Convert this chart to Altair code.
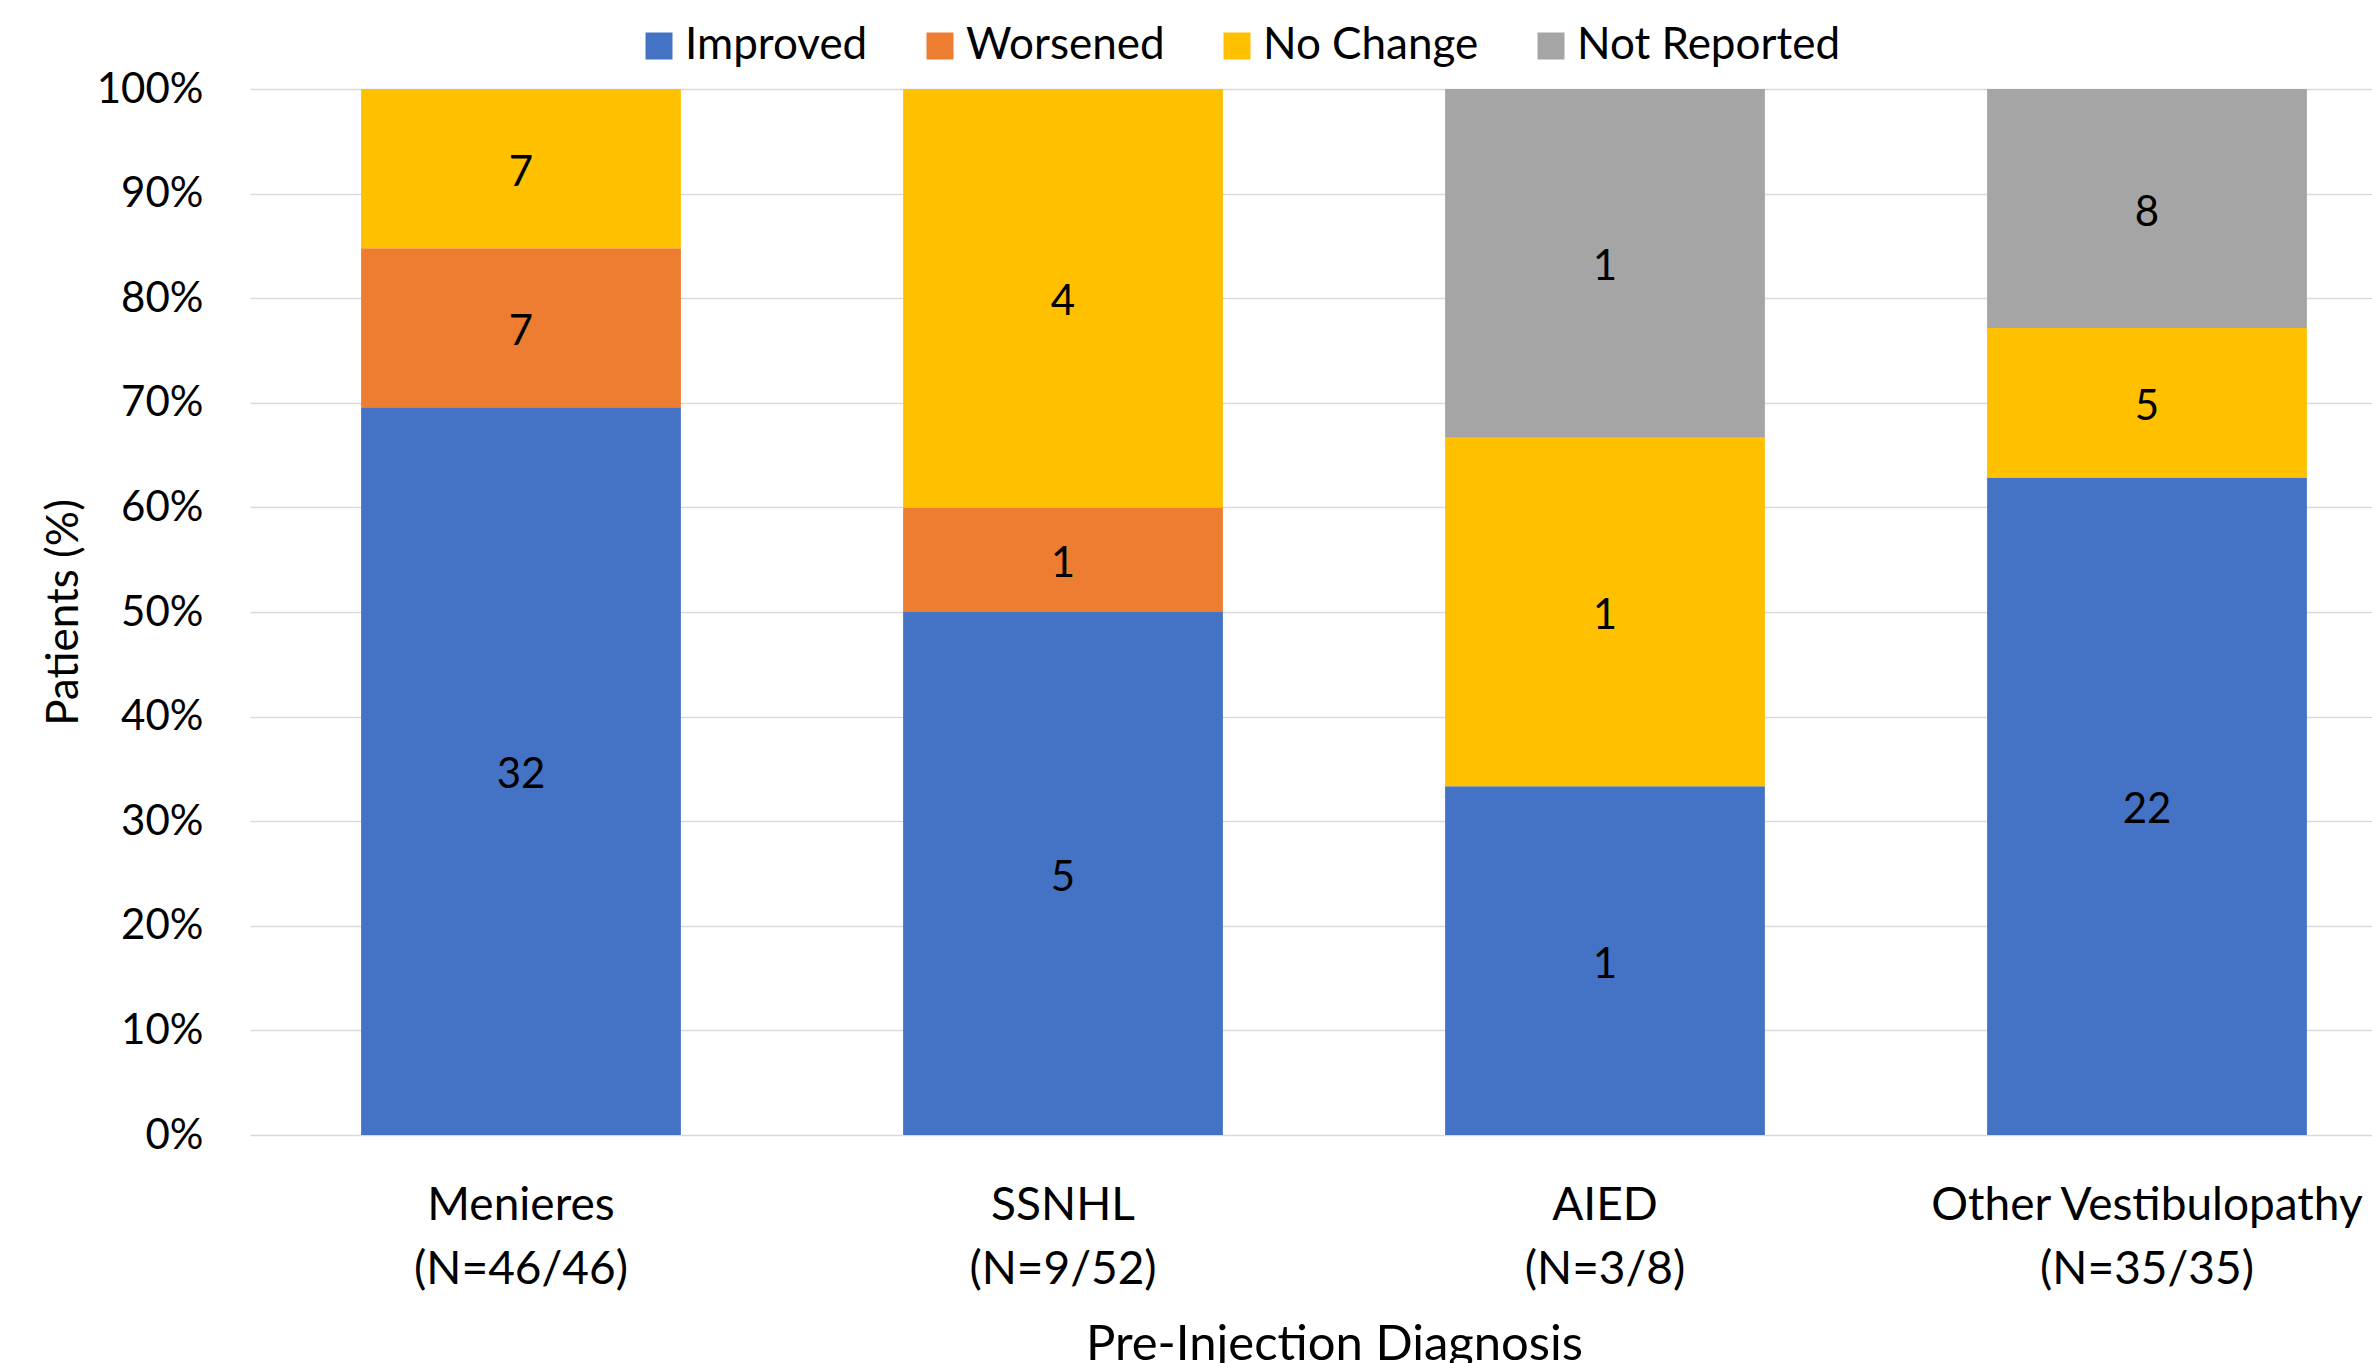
import altair as alt
import pandas as pd

categories = ["Menieres", "SSNHL", "AIED", "Other Vestibulopathy"]
n_labels = ["(N=46/46)", "(N=9/52)", "(N=3/8)", "(N=35/35)"]
outcomes = ["Improved", "Worsened", "No Change", "Not Reported"]
improved = [32, 5, 1, 22]
worsened = [7, 1, 0, 0]
no_change = [7, 4, 1, 5]
not_reported = [0, 0, 1, 8]
colors = ["#4472C4", "#ED7D31", "#FFC000", "#A5A5A5"]
y_ticks = [0, 0.1, 0.2, 0.3, 0.4, 0.5, 0.6, 0.7, 0.8, 0.9, 1.0]

series = [improved, worsened, no_change, not_reported]
rows = []
cat_keys = []
for i, cat in enumerate(categories):
    key = f"{cat}|{n_labels[i]}"
    cat_keys.append(key)
    total = sum(s[i] for s in series)
    cum = 0
    for j, (o, s) in enumerate(zip(outcomes, series)):
        v = s[i]
        lo = cum / total
        cum += v
        hi = cum / total
        rows.append(dict(cat=key, outcome=o, count=v, lo=lo, hi=hi,
                         mid=(lo + hi) / 2, order=j))
df = pd.DataFrame(rows)

FONT = "Lato"

x_enc = alt.X(
    "cat:N",
    sort=cat_keys,
    scale=alt.Scale(range=[0, 2168], paddingInner=0.41, paddingOuter=0.205),
    axis=alt.Axis(
        title="Pre-Injection Diagnosis",
        labelExpr="split(datum.label, '|')",
        labelAngle=0,
        domain=False,
        ticks=False,
        labelFontSize=46,
        labelLineHeight=64,
        labelPadding=48,
        labelLimit=2000,
        labelOverlap=False,
        labelColor="black",
        titleFontSize=49,
        titleFontWeight="normal",
        titleColor="black",
        titlePadding=28,
    ),
)

bars = alt.Chart(df).mark_bar().encode(
    x=x_enc,
    y=alt.Y(
        "lo:Q",
        scale=alt.Scale(domain=[0, 1], nice=False),
        axis=alt.Axis(
            title="Patients (%)",
            format=".0%",
            values=y_ticks,
            domain=False,
            ticks=False,
            labelFontSize=42,
            labelColor="black",
            labelPadding=47,
            grid=True,
            gridColor="#D9D9D9",
            gridWidth=1.5,
            titleFontSize=44,
            titleFontWeight="normal",
            titleColor="black",
            titlePadding=10,
        ),
    ),
    y2="hi:Q",
    color=alt.Color(
        "outcome:N",
        scale=alt.Scale(domain=outcomes, range=colors),
        legend=alt.Legend(
            title=None,
            orient="none",
            direction="horizontal",
            legendX=387,
            legendY=-65,
            symbolType="square",
            symbolSize=729,
            symbolStrokeWidth=0,
            labelFontSize=44,
            labelColor="black",
            labelOffset=4,
            columnPadding=50,
            labelLimit=400,
        ),
    ),
    order=alt.Order("order:Q"),
)

texts = alt.Chart(df).transform_filter("datum.count > 0").mark_text(
    fontSize=42, color="black", font=FONT, dy=4
).encode(
    x=alt.X("cat:N", sort=cat_keys),
    y=alt.Y("mid:Q"),
    text=alt.Text("count:Q"),
)

chart = (
    alt.layer(bars, texts)
    .properties(
        width=2122,
        height=1046,
        autosize=alt.AutoSizeParams(type="none"),
        padding={"left": 250, "top": 89, "right": 0, "bottom": 228},
    )
    .configure(font=FONT)
    .configure_view(stroke=None)
)

chart.save("out.html", embed_options={"renderer": "svg", "actions": False})
